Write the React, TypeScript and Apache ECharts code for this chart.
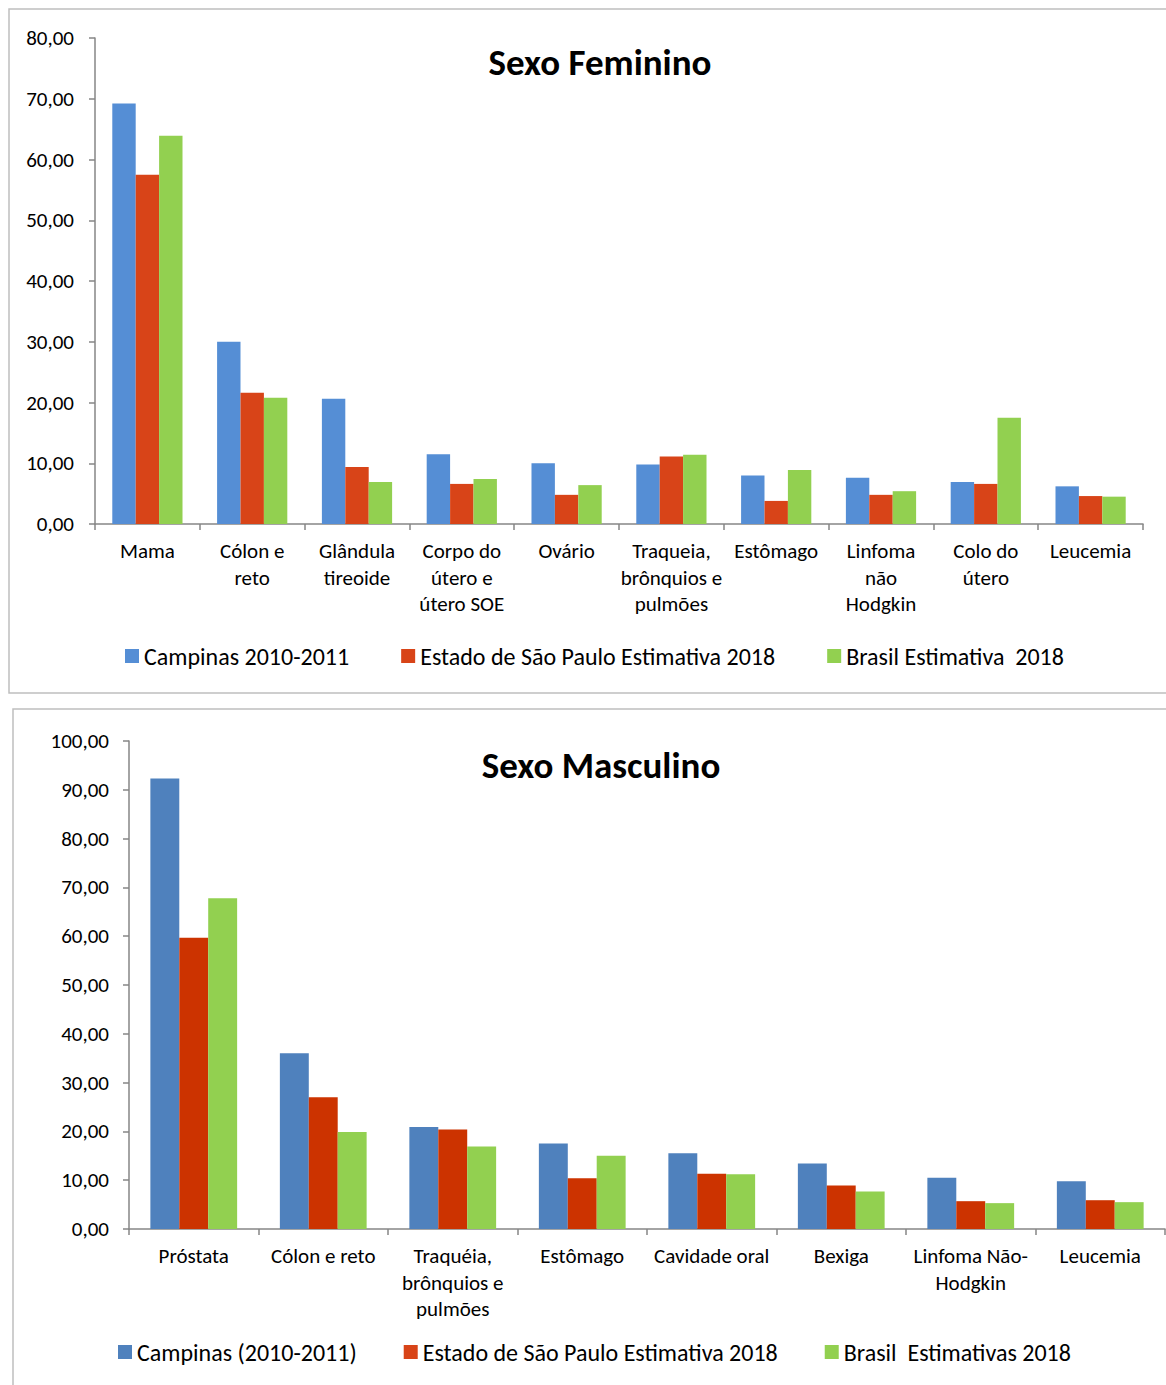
import React, { useEffect, useRef } from "react";
import * as echarts from "echarts";

const femCategories = [
  "Mama",
  "Cólon e\nreto",
  "Glândula\ntireoide",
  "Corpo do\nútero e\nútero SOE",
  "Ovário",
  "Traqueia,\nbrônquios e\npulmões",
  "Estômago",
  "Linfoma\nnão\nHodgkin",
  "Colo do\nútero",
  "Leucemia",
];
const femCampinas = [69.2, 30.0, 20.6, 11.5, 10.0, 9.8, 8.0, 7.6, 6.9, 6.2];
const femSaoPaulo = [57.5, 21.6, 9.4, 6.6, 4.8, 11.1, 3.8, 4.8, 6.6, 4.6];
const femBrasil = [63.9, 20.8, 6.9, 7.4, 6.4, 11.4, 8.9, 5.4, 17.5, 4.5];
const femSeriesNames = [
  "Campinas 2010-2011",
  "Estado de São Paulo Estimativa 2018",
  "Brasil Estimativa  2018",
];

const mascCategories = [
  "Próstata",
  "Cólon e reto",
  "Traquéia,\nbrônquios e\npulmões",
  "Estômago",
  "Cavidade oral",
  "Bexiga",
  "Linfoma Não-\nHodgkin",
  "Leucemia",
];
const mascCampinas = [92.3, 36.0, 20.9, 17.5, 15.5, 13.4, 10.5, 9.8];
const mascSaoPaulo = [59.7, 27.0, 20.4, 10.4, 11.3, 8.9, 5.7, 5.9];
const mascBrasil = [67.8, 19.9, 16.9, 15.0, 11.2, 7.7, 5.3, 5.5];
const mascSeriesNames = [
  "Campinas (2010-2011)",
  "Estado de São Paulo Estimativa 2018",
  "Brasil  Estimativas 2018",
];

const femTitle = "Sexo Feminino";
const mascTitle = "Sexo Masculino";

const FONT = "Carlito, Lato, sans-serif";
const fmt = (v: number) => v.toFixed(2).replace(".", ",");

export default function App() {
  const ref = useRef<HTMLDivElement>(null);
  useEffect(() => {
    if (!ref.current) return;
    const chart = echarts.init(ref.current, null, { renderer: "svg" });
    const axisLine = { show: true, lineStyle: { color: "#868686", width: 1.5 } };
    const axisTick = { show: true, length: 6, lineStyle: { color: "#868686", width: 1.5 } };
    const catLabel = {
      interval: 0,
      color: "#000",
      fontFamily: FONT,
      fontSize: 21,
      lineHeight: 26.5,
      margin: 14,
    };
    const valLabel = {
      color: "#000",
      fontFamily: FONT,
      fontSize: 21,
      margin: 21,
      formatter: fmt,
    };
    const barCommon = { type: "bar", barGap: "0%", barCategoryGap: "33%" };
    const legendText = { fontFamily: FONT, fontSize: 24, color: "#000" };
    chart.setOption({
      animation: false,
      backgroundColor: "#fff",
      textStyle: { fontFamily: FONT },
      title: [
        {
          text: femTitle,
          left: 595,
          top: 39,
          textAlign: "center",
          textStyle: { fontFamily: FONT, fontSize: 37, fontWeight: "bold", color: "#000" },
        },
        {
          text: mascTitle,
          left: 596,
          top: 742,
          textAlign: "center",
          textStyle: { fontFamily: FONT, fontSize: 37, fontWeight: "bold", color: "#000" },
        },
      ],
      graphic: [
        {
          type: "rect",
          shape: { x: 9, y: 9, width: 1200, height: 684 },
          style: { fill: "none", stroke: "#BFBFBF", lineWidth: 1.5 },
          silent: true,
        },
        {
          type: "rect",
          shape: { x: 13, y: 709, width: 1200, height: 720 },
          style: { fill: "none", stroke: "#BFBFBF", lineWidth: 1.5 },
          silent: true,
        },
      ],
      legend: [
        {
          data: femSeriesNames,
          left: 120,
          top: 639,
          icon: "rect",
          itemWidth: 14,
          itemHeight: 14,
          itemGap: 52,
          textStyle: legendText,
        },
        {
          data: mascSeriesNames,
          left: 113,
          top: 1335,
          icon: "rect",
          itemWidth: 14,
          itemHeight: 14,
          itemGap: 47,
          textStyle: legendText,
        },
      ],
      grid: [
        { left: 95, top: 38, width: 1048, height: 486 },
        { left: 129, top: 741, width: 1036, height: 488 },
      ],
      xAxis: [
        { type: "category", gridIndex: 0, data: femCategories, axisLine, axisTick, axisLabel: catLabel },
        { type: "category", gridIndex: 1, data: mascCategories, axisLine, axisTick, axisLabel: catLabel },
      ],
      yAxis: [
        {
          type: "value", gridIndex: 0, min: 0, max: 80, interval: 10,
          axisLine, axisTick, axisLabel: valLabel, splitLine: { show: false },
        },
        {
          type: "value", gridIndex: 1, min: 0, max: 100, interval: 10,
          axisLine, axisTick, axisLabel: { ...valLabel, margin: 20 }, splitLine: { show: false },
        },
      ],
      series: [
        { ...barCommon, name: femSeriesNames[0], xAxisIndex: 0, yAxisIndex: 0, data: femCampinas, itemStyle: { color: "#558ED5" } },
        { ...barCommon, name: femSeriesNames[1], xAxisIndex: 0, yAxisIndex: 0, data: femSaoPaulo, itemStyle: { color: "#D84418" } },
        { ...barCommon, name: femSeriesNames[2], xAxisIndex: 0, yAxisIndex: 0, data: femBrasil, itemStyle: { color: "#92D050" } },
        { ...barCommon, name: mascSeriesNames[0], xAxisIndex: 1, yAxisIndex: 1, data: mascCampinas, itemStyle: { color: "#4F81BD" } },
        { ...barCommon, name: mascSeriesNames[1], xAxisIndex: 1, yAxisIndex: 1, data: mascSaoPaulo, itemStyle: { color: "#CC3300" } },
        { ...barCommon, name: mascSeriesNames[2], xAxisIndex: 1, yAxisIndex: 1, data: mascBrasil, itemStyle: { color: "#92D050" } },
      ],
    });
    return () => chart.dispose();
  }, []);
  return (
    <div
      ref={ref}
      style={{ position: "absolute", left: 0, top: 0, width: 1166, height: 1385 }}
    />
  );
}
